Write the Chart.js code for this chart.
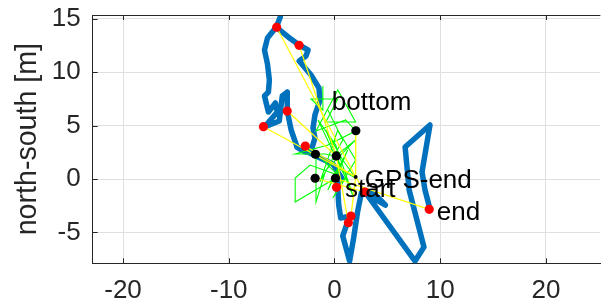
<!DOCTYPE html>
<html><head><meta charset="utf-8">
<script src="https://cdn.jsdelivr.net/npm/chart.js@4.4.1/dist/chart.umd.min.js"></script>
<style>html,body{margin:0;padding:0;background:#fff;overflow:hidden}#wrap{width:605px;height:305px}</style>
</head><body><div id="wrap"><canvas id="c" width="605" height="305"></canvas></div>
<script>
// ---- axes ----
const xTicks = [-20, -10, 0, 10, 20];
const yTicks = [-5, 0, 5, 10, 15];
const xRange = [-22.87, 25.15];
const yRange = [-7.9, 15.37];
const yTitle = 'north-south [m]';

// ---- blue trajectory (two strokes) ----
const blueTopX = [-5.13,-5.50,-6.34,-6.62,-6.34,-6.16,-6.25,-6.62,-6.25,-5.59,-5.41,-6.06,-6.62,-5.22,-4.94,-4.47,-4.47,-4.10,-3.53,-2.78,-2.13,-1.85,-2.03,-1.85,-1.37,-1.47,-2.22,-3.34,-2.69,-2.50,-3.35,-4.38,-5.41];
const blueTopY = [15.18,14.25,13.21,12.09,10.78,9.28,8.15,7.78,6.28,7.12,6.28,5.53,4.87,5.44,7.78,8.15,6.37,4.59,2.97,2.53,2.91,3.84,4.78,6.00,7.40,8.53,9.75,11.06,11.53,12.09,12.56,13.31,14.15];
const blueBotX = [-3.53,-1.75,-0.16,0.68,0.31,0.40,0.59,1.43,0.78,1.43,1.81,2.18,2.56,3.31,4.81,3.68,2.75,7.62,8.46,7.06,6.68,9.03,8.28,8.56,8.93];
const blueBotY = [3.00,2.16,1.41,0.09,-0.84,-2.44,-3.66,-3.47,-5.34,-7.69,-5.53,-3.09,-1.22,-1.59,-2.44,-1.31,-1.03,-7.69,-6.37,-1.03,3.00,5.06,0.66,-1.03,-2.44];

// ---- green track ----
const greenX = [-1.10,-1.10,-2.22,0.31,-0.82,2.00,0.31,-1.75,1.06,2.00,-0.63,-3.72,-0.91,0.12,2.00,-0.82,-1.75,-1.75,0.31,-2.31,-3.72,-3.72,0.12,1.25,-0.63,0.31,2.00,0.78,-0.82,1.72,0.12,-1.56,1.06,-0.16,2.00,0.31,-1.38,0.78,-0.63];
const greenY = [8.72,6.47,7.50,7.50,5.34,5.34,8.34,4.50,5.53,4.50,3.19,2.34,2.34,2.16,3.66,0.84,-2.16,2.44,0.37,1.31,0.09,-2.16,0.09,2.72,-1.03,1.03,0.09,1.78,4.59,-1.50,3.19,5.53,0.09,-1.78,1.78,4.59,-0.28,3.66,6.47];

// ---- markers ----
const redX = [-5.47,-3.35,-4.47,-6.72,-2.76,0.19,2.89,1.56,1.31,8.96];
const redY = [14.22,12.53,6.37,4.90,3.09,-0.78,-1.22,-3.47,-4.10,-2.84];
const blackX = [2.02,-1.80,0.17,-1.83,0.09];
const blackY = [4.52,2.32,2.16,0.07,0.07];
const gpsEndX = [2.00];
const gpsEndY = [0.19];

// ---- yellow links: [fromX, fromY, toX, toY] ----
const yellowX1 = [-5.47,-3.35,-4.47,-6.72,-2.76,0.19,2.89,1.56,1.31,8.96,-1.83,2.02];
const yellowY1 = [14.22,12.53,6.37,4.90,3.09,-0.78,-1.22,-3.47,-4.10,-2.84,0.07,4.52];
const yellowX2 = [2.00,0.17,0.17,2.00,2.00,0.09,2.00,2.00,0.17,0.09,2.89,2.00];
const yellowY2 = [0.19,2.16,2.16,0.19,0.19,0.07,0.19,0.19,2.16,0.07,-1.22,0.19];

// ---- text labels (left edge, baseline) ----
const labelText = ['bottom', 'GPS-end', 'start', 'end'];
const labelX = [-0.25, 2.87, 0.99, 9.68];
const labelY = [6.47, -0.87, -1.72, -3.84];

const FONT = "'Liberation Sans', Arial, Helvetica, sans-serif";
const pts = (xs, ys) => xs.map((x, i) => ({x, y: ys[i]}));

const datasets = [];
datasets.push({data: pts(blackX, blackY), showLine: false, pointRadius: 4.6, backgroundColor: '#000', borderWidth: 0, order: 1});
datasets.push({data: pts(gpsEndX, gpsEndY), showLine: false, pointRadius: 2, backgroundColor: '#000', borderWidth: 0, order: 1});
datasets.push({data: pts(redX, redY), showLine: false, pointRadius: 4.6, backgroundColor: '#ff0000', borderWidth: 0, order: 2});
yellowX1.forEach((_, i) => {
  datasets.push({data: [{x: yellowX1[i], y: yellowY1[i]}, {x: yellowX2[i], y: yellowY2[i]}], showLine: true, borderColor: '#ffff00', borderWidth: 1.2, pointRadius: 0, order: 3});
});
datasets.push({data: pts(greenX, greenY), showLine: true, borderColor: '#00ff00', borderWidth: 1.1, pointRadius: 0, order: 4});
[[blueTopX, blueTopY], [blueBotX, blueBotY]].forEach(([xs, ys]) => {
  datasets.push({data: pts(xs, ys), showLine: true, borderColor: '#0072bd', borderWidth: 5.5, pointRadius: 0, borderJoinStyle: 'round', borderCapStyle: 'round', order: 5});
});

const decor = {
  id: 'decor',
  afterDatasetsDraw(chart) {
    const {ctx, chartArea: a, scales: {x, y}} = chart;
    ctx.save();
    ctx.fillStyle = '#000';
    ctx.font = '26px ' + FONT;
    ctx.textBaseline = 'alphabetic';
    ctx.textAlign = 'left';
    labelText.forEach((t, i) => ctx.fillText(t, x.getPixelForValue(labelX[i]), y.getPixelForValue(labelY[i])));
    ctx.strokeStyle = '#262626';
    ctx.lineWidth = 1;
    ctx.beginPath();
    ctx.moveTo(a.left, a.top + 0.5); ctx.lineTo(a.right, a.top + 0.5);
    xTicks.forEach(v => {
      const p = Math.round(x.getPixelForValue(v)) + 0.5;
      ctx.moveTo(p, a.bottom); ctx.lineTo(p, a.bottom - 5);
      ctx.moveTo(p, a.top); ctx.lineTo(p, a.top + 5);
    });
    yTicks.forEach(v => {
      const p = Math.round(y.getPixelForValue(v)) + 0.5;
      ctx.moveTo(a.left, p); ctx.lineTo(a.left + 5, p);
    });
    ctx.stroke();
    ctx.restore();
  }
};

new Chart(document.getElementById('c'), {
  type: 'scatter',
  data: {datasets},
  options: {
    responsive: false, animation: false, devicePixelRatio: 1,
    layout: {padding: {left: 0, right: 0, top: 15, bottom: 0}},
    plugins: {legend: {display: false}, tooltip: {enabled: false}},
    scales: {
      x: {
        type: 'linear', min: xRange[0], max: xRange[1],
        afterBuildTicks: s => { s.ticks = xTicks.map(v => ({value: v})); },
        afterFit: s => { s.height = 41.7; s.paddingLeft = 0; s.paddingRight = 0; },
        grid: {color: '#dfdfdf', drawTicks: false},
        border: {color: '#262626', width: 1},
        ticks: {color: '#262626', font: {family: FONT, size: 26}, padding: 12, maxRotation: 0, autoSkip: false}
      },
      y: {
        type: 'linear', min: yRange[0], max: yRange[1],
        afterBuildTicks: s => { s.ticks = yTicks.map(v => ({value: v})); },
        afterFit: s => { s.width = 92.7; s.paddingTop = 0; s.paddingBottom = 0; },
        grid: {color: '#dfdfdf', drawTicks: false},
        border: {color: '#262626', width: 1},
        ticks: {color: '#262626', font: {family: FONT, size: 26}, padding: 12, autoSkip: false},
        title: {display: true, text: yTitle, color: '#262626', font: {family: FONT, size: 28.6}, padding: {top: 11, bottom: 0}}
      }
    }
  },
  plugins: [decor]
});
</script></body></html>
